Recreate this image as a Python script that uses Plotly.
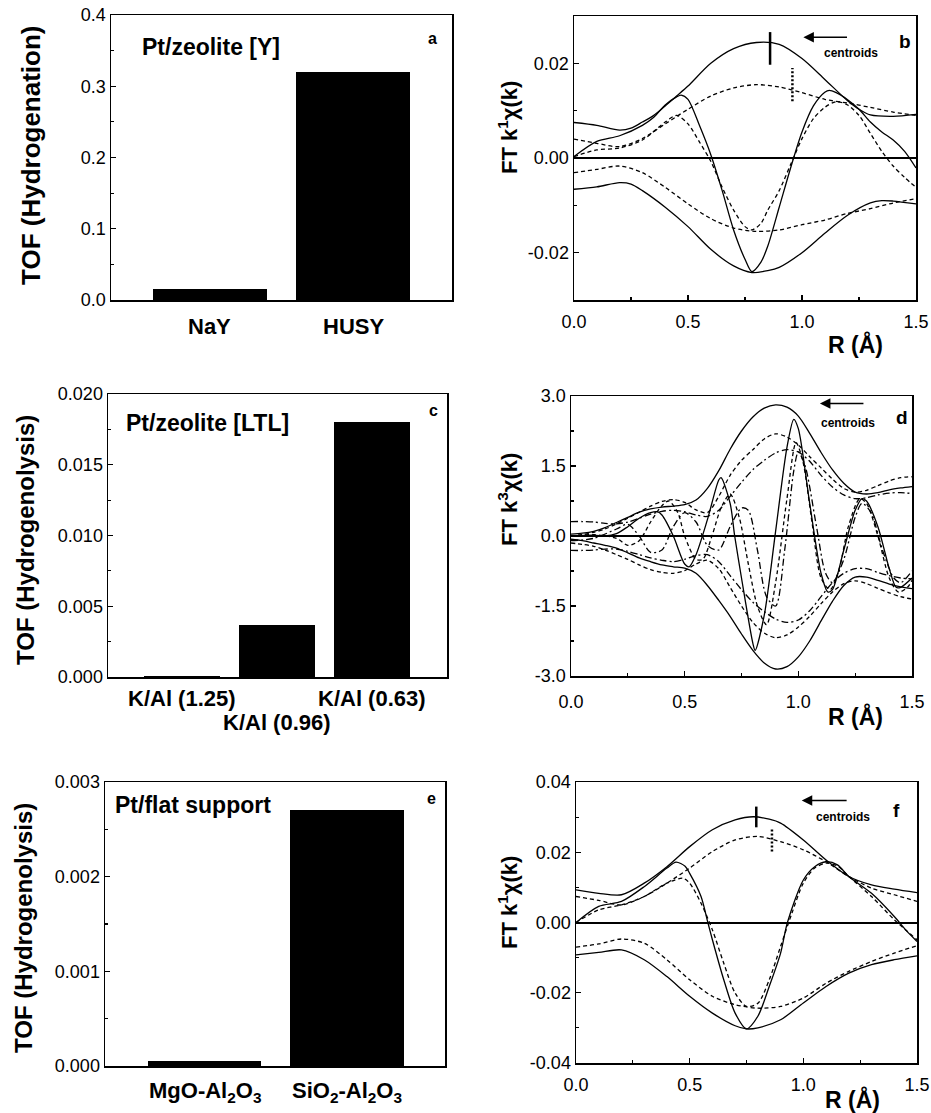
import plotly.graph_objects as go

W, H = 931, 1113
OFF = 0  # body margin is removed in the page, so reference pixels map 1:1
FONT = "Liberation Sans, Arial, Helvetica, sans-serif"

# ---------------- Panel a (bars) ----------------
a_categories = ["NaY", "HUSY"]
a_tof = [0.015, 0.32]
a_yticks = [0.0, 0.1, 0.2, 0.3, 0.4]

# ---------------- Panel c (bars) ----------------
c_categories = ["K/Al (1.25)", "K/Al (0.96)", "K/Al (0.63)"]
c_tof = [0.0001, 0.0037, 0.018]
c_yticks = [0.0, 0.005, 0.010, 0.015, 0.020]

# ---------------- Panel e (bars) ----------------
e_categories = ["MgO-Al<sub>2</sub>O<sub>3</sub>", "SiO<sub>2</sub>-Al<sub>2</sub>O<sub>3</sub>"]
e_tof = [0.00005, 0.0027]
e_yticks = [0.0, 0.001, 0.002, 0.003]

# ---------------- Panel b (FT k1 chi) ----------------
b_xticks = [0.0, 0.5, 1.0, 1.5]
b_yticks = [-0.02, 0.0, 0.02]
b_R_up = [0, 0.1, 0.2, 0.25, 0.3, 0.35, 0.4, 0.45, 0.5, 0.6, 0.7, 0.8, 0.9, 1.0, 1.1, 1.2, 1.25, 1.3, 1.4, 1.5]
b_solid_upper = [0.0075, 0.0069, 0.0059, 0.0063, 0.0076, 0.009, 0.011, 0.0131, 0.0152, 0.02, 0.0231, 0.0244,
                 0.024, 0.021, 0.0166, 0.0121, 0.0103, 0.0091, 0.0088, 0.0092]
b_R_lo = [0, 0.1, 0.2, 0.25, 0.3, 0.4, 0.5, 0.6, 0.7, 0.78, 0.85, 0.9, 1.0, 1.1, 1.2, 1.3, 1.35, 1.4, 1.5]
b_solid_lower = [-0.0066, -0.0061, -0.0052, -0.0055, -0.0069, -0.0104, -0.0145, -0.0193, -0.0228, -0.0242,
                 -0.0238, -0.0231, -0.02, -0.0159, -0.0121, -0.0095, -0.009, -0.0091, -0.0097]
b_R_im = [0, 0.1, 0.2, 0.3, 0.35, 0.4, 0.45, 0.47, 0.5, 0.55, 0.6, 0.65, 0.7, 0.75, 0.78, 0.82, 0.85, 0.9,
          0.95, 1.0, 1.05, 1.1, 1.12, 1.15, 1.2, 1.25, 1.3, 1.35, 1.4, 1.45, 1.5]
b_solid_imag = [0.0003, 0.0035, 0.0047, 0.0069, 0.0086, 0.0112, 0.0129, 0.0133, 0.0124, 0.0069, 0.0007,
                -0.0069, -0.0152, -0.0214, -0.024, -0.022, -0.0186, -0.0104, -0.0021, 0.0055, 0.011, 0.0139,
                0.0143, 0.0138, 0.0123, 0.0103, 0.0076, 0.0055, 0.0038, 0.0014, -0.0021]
b_R_dash = [0, 0.1, 0.2, 0.3, 0.4, 0.5, 0.6, 0.7, 0.8, 0.9, 1.0, 1.1, 1.2, 1.3, 1.4, 1.5]
b_dash_upper = [0.004, 0.0031, 0.0024, 0.0041, 0.0072, 0.0103, 0.0131, 0.0148, 0.0155, 0.015, 0.0138,
                0.0124, 0.0116, 0.0107, 0.0097, 0.009]
b_dash_lower = [-0.0031, -0.0024, -0.0017, -0.0031, -0.0062, -0.0097, -0.0128, -0.0148, -0.0155, -0.0152,
                -0.0141, -0.0131, -0.0117, -0.0107, -0.0095, -0.0086]
b_R_dim = [0, 0.1, 0.2, 0.3, 0.4, 0.45, 0.5, 0.55, 0.6, 0.65, 0.7, 0.75, 0.78, 0.82, 0.85, 0.9, 0.95, 1.0,
           1.05, 1.1, 1.15, 1.2, 1.25, 1.3, 1.35, 1.4, 1.45, 1.5]
b_dash_imag = [0.0003, 0.0017, 0.0021, 0.0038, 0.0076, 0.009, 0.0072, 0.0034, -0.0007, -0.0062, -0.011,
               -0.0145, -0.0152, -0.0138, -0.011, -0.0069, -0.0014, 0.0041, 0.0083, 0.0107, 0.0119, 0.0112,
               0.009, 0.0052, 0.0014, -0.0017, -0.0041, -0.0062]
b_centroid_solid = {"R": [0.86, 0.86], "v": [0.0197, 0.0266]}
b_centroid_dotted = {"R": [0.958, 0.958], "v": [0.012, 0.019]}

# ---------------- Panel d (FT k3 chi) ----------------
d_yticks = [-3.0, -1.5, 0.0, 1.5, 3.0]
d_R = [round(0.05 * i, 2) for i in range(31)]
d_solid_upper = [0.04, 0.06, 0.1, 0.18, 0.29, 0.4, 0.51, 0.58, 0.62, 0.64, 0.67, 0.77, 1.02, 1.4, 1.86, 2.25,
                 2.55, 2.74, 2.81, 2.76, 2.57, 2.2, 1.79, 1.42, 1.13, 0.94, 0.9, 0.93, 0.99, 1.03, 1.06]
d_solid_lower = [-0.07, -0.1, -0.15, -0.2, -0.26, -0.36, -0.47, -0.55, -0.62, -0.66, -0.69, -0.8, -1.06, -1.38,
                 -1.72, -2.1, -2.45, -2.72, -2.85, -2.8, -2.59, -2.25, -1.82, -1.4, -1.06, -0.88, -0.88, -0.95,
                 -1.03, -1.09, -1.13]
d_dash_upper = [0.0, 0.03, 0.08, 0.15, 0.26, 0.38, 0.51, 0.64, 0.74, 0.78, 0.72, 0.56, 0.5, 0.85, 1.3, 1.62,
                1.85, 2.08, 2.19, 2.12, 1.95, 1.7, 1.46, 1.22, 1.02, 0.94, 0.98, 1.08, 1.18, 1.25, 1.27]
d_dash_lower = [-0.15, -0.18, -0.22, -0.3, -0.4, -0.5, -0.62, -0.72, -0.78, -0.8, -0.74, -0.6, -0.52, -0.7,
                -1.1, -1.5, -1.85, -2.08, -2.18, -2.12, -1.95, -1.72, -1.45, -1.2, -1.02, -0.96, -1.02, -1.12,
                -1.22, -1.3, -1.35]
d_dd_upper = [0.31, 0.31, 0.3, 0.27, 0.26, 0.3, 0.38, 0.47, 0.53, 0.55, 0.52, 0.45, 0.42, 0.55, 0.85, 1.15,
              1.42, 1.62, 1.78, 1.85, 1.8, 1.6, 1.3, 1.05, 0.88, 0.8, 0.82, 0.88, 0.92, 0.93, 0.91]
d_dd_lower = [-0.31, -0.31, -0.3, -0.28, -0.28, -0.33, -0.4, -0.47, -0.52, -0.55, -0.5, -0.42, -0.4, -0.55,
              -0.85, -1.15, -1.42, -1.62, -1.78, -1.85, -1.8, -1.6, -1.3, -1.0, -0.8, -0.7, -0.7, -0.78, -0.85,
              -0.9, -0.92]
d_R_sim = [0, 0.1, 0.15, 0.2, 0.25, 0.3, 0.35, 0.38, 0.4, 0.45, 0.5, 0.52, 0.55, 0.6, 0.65, 0.66, 0.7, 0.72,
           0.75, 0.8, 0.81, 0.85, 0.9, 0.95, 0.98, 1.0, 1.05, 1.1, 1.13, 1.15, 1.2, 1.25, 1.28, 1.3, 1.35, 1.4,
           1.43, 1.45, 1.5]
d_solid_imag = [0.0, 0.02, 0.0, 0.05, 0.2, 0.38, 0.5, 0.52, 0.45, 0.0, -0.6, -0.66, -0.4, 0.35, 1.2, 1.25,
                0.7, 0.0, -0.9, -2.3, -2.45, -1.7, 0.1, 1.9, 2.5, 2.3, 0.7, -0.8, -1.2, -1.15, -0.3, 0.55, 0.8,
                0.75, 0.2, -0.7, -1.1, -1.1, -0.9]
d_R_dim = [0, 0.1, 0.2, 0.25, 0.3, 0.35, 0.4, 0.43, 0.47, 0.5, 0.55, 0.58, 0.62, 0.66, 0.7, 0.74, 0.78, 0.82,
           0.86, 0.9, 0.95, 0.99, 1.02, 1.06, 1.1, 1.14, 1.18, 1.22, 1.27, 1.3, 1.35, 1.4, 1.44, 1.48, 1.5]
d_dash_imag = [0.0, 0.03, -0.05, -0.2, -0.1, 0.3, 0.65, 0.75, 0.5, 0.0, -0.5, -0.5, 0.0, 0.6, 0.9, 0.4, -0.6,
               -1.5, -1.9, -1.0, 0.8, 2.0, 1.6, 0.3, -0.9, -1.15, -0.7, 0.2, 0.8, 0.7, 0.0, -0.9, -1.2, -1.1,
               -0.95]
d_R_ddim = [0, 0.1, 0.2, 0.25, 0.3, 0.35, 0.4, 0.45, 0.5, 0.55, 0.6, 0.65, 0.7, 0.75, 0.78, 0.82, 0.86, 0.9,
            0.94, 0.98, 1.0, 1.03, 1.08, 1.12, 1.15, 1.2, 1.25, 1.28, 1.32, 1.37, 1.42, 1.45, 1.5]
d_dd_imag = [-0.1, -0.05, 0.15, 0.25, 0.0, -0.35, -0.3, 0.2, 0.5, 0.3, -0.2, -0.3, 0.2, 0.6, 0.55, -0.3, -1.3,
             -1.5, -0.3, 1.4, 1.8, 1.5, 0.2, -0.8, -1.0, -0.5, 0.4, 0.7, 0.5, -0.3, -0.9, -1.0, -0.75]

# ---------------- Panel f (FT k1 chi) ----------------
f_yticks = [-0.04, -0.02, 0.0, 0.02, 0.04]
f_R = [0, 0.1, 0.2, 0.3, 0.4, 0.5, 0.6, 0.7, 0.78, 0.85, 0.9, 1.0, 1.1, 1.2, 1.3, 1.4, 1.5]
f_solid_upper = [0.0093, 0.0083, 0.0079, 0.0112, 0.0159, 0.0216, 0.0264, 0.0292, 0.0301, 0.0294, 0.0283,
                 0.0235, 0.0178, 0.0131, 0.0107, 0.0095, 0.0085]
f_R_lo = [0, 0.1, 0.2, 0.3, 0.4, 0.5, 0.6, 0.7, 0.75, 0.8, 0.9, 1.0, 1.1, 1.2, 1.3, 1.4, 1.5]
f_solid_lower = [-0.0092, -0.0085, -0.0078, -0.0106, -0.0154, -0.021, -0.0258, -0.0294, -0.0303, -0.03,
                 -0.0277, -0.0229, -0.0182, -0.0144, -0.012, -0.0106, -0.0095]
f_R_im = [0, 0.1, 0.2, 0.3, 0.4, 0.44, 0.48, 0.5, 0.55, 0.58, 0.6, 0.65, 0.7, 0.75, 0.8, 0.85, 0.9, 0.93,
          1.0, 1.05, 1.1, 1.15, 1.2, 1.3, 1.4, 1.45, 1.5]
f_solid_imag = [0.0, 0.0046, 0.006, 0.0102, 0.0155, 0.0172, 0.016, 0.014, 0.0074, 0.0, -0.0049, -0.0163,
                -0.0258, -0.0303, -0.0267, -0.0182, -0.0087, 0.0, 0.0121, 0.0159, 0.0173, 0.0164, 0.0131,
                0.0083, 0.0017, -0.0021, -0.0054]
f_R_dash = [0, 0.1, 0.2, 0.3, 0.4, 0.5, 0.6, 0.7, 0.8, 0.9, 1.0, 1.1, 1.2, 1.3, 1.4, 1.5]
f_dash_upper = [0.0074, 0.0063, 0.005, 0.0074, 0.0112, 0.0155, 0.0202, 0.0235, 0.0245, 0.023, 0.0207, 0.0173,
                0.0131, 0.0098, 0.0079, 0.006]
f_dash_lower = [-0.007, -0.0061, -0.0047, -0.0059, -0.0106, -0.0163, -0.021, -0.0234, -0.0244, -0.0239,
                -0.0215, -0.0173, -0.0139, -0.0111, -0.0087, -0.0066]
f_R_dim = [0, 0.1, 0.2, 0.3, 0.4, 0.47, 0.5, 0.55, 0.6, 0.65, 0.7, 0.75, 0.8, 0.85, 0.9, 0.95, 1.0, 1.05,
           1.1, 1.15, 1.2, 1.3, 1.4, 1.5]
f_dash_imag = [0.0, 0.0036, 0.005, 0.0074, 0.0112, 0.0126, 0.0112, 0.0055, -0.0021, -0.0116, -0.0201, -0.0239,
               -0.023, -0.0163, -0.0068, 0.0027, 0.0112, 0.0155, 0.0169, 0.0161, 0.0131, 0.0074, 0.0008, -0.0049]
f_centroid_solid = {"R": [0.793, 0.793], "v": [0.0271, 0.033]}
f_centroid_dotted = {"R": [0.862, 0.862], "v": [0.0202, 0.0265]}

# ---------------- figure ----------------
fig = go.Figure()


def px_x(p):
    return (p - OFF) / W


def px_y(p):
    return 1 - (p - OFF) / H


def fmt(vals, d):
    return [f"{v:.{d}f}" for v in vals]


# bars
fig.add_trace(go.Bar(x=list(range(len(a_categories))), y=a_tof, width=0.8, marker_color="black",
                     marker_line_width=0, xaxis="x", yaxis="y", showlegend=False))
fig.add_trace(go.Bar(x=list(range(len(c_categories))), y=c_tof, width=0.8, marker_color="black",
                     marker_line_width=0, xaxis="x3", yaxis="y3", showlegend=False))
fig.add_trace(go.Bar(x=list(range(len(e_categories))), y=e_tof, width=0.8, marker_color="black",
                     marker_line_width=0, xaxis="x5", yaxis="y5", showlegend=False))

SOLID = dict(color="black", width=1.3, shape="spline", smoothing=0.8)
DASH = dict(color="black", width=1.3, dash="4px,3px", shape="spline", smoothing=0.8)
DDOT = dict(color="black", width=1.3, dash="7px,3px,2px,3px", shape="spline", smoothing=0.8)


def line(xs, ys, style, ax):
    fig.add_trace(go.Scatter(x=xs, y=ys, mode="lines", line=style, xaxis="x" + ax, yaxis="y" + ax,
                             showlegend=False, hoverinfo="skip"))


# panel b
line(b_R_up, b_solid_upper, SOLID, "2")
line(b_R_lo, b_solid_lower, SOLID, "2")
line(b_R_im, b_solid_imag, SOLID, "2")
line(b_R_dash, b_dash_upper, DASH, "2")
line(b_R_dash, b_dash_lower, DASH, "2")
line(b_R_dim, b_dash_imag, DASH, "2")
line(b_centroid_solid["R"], b_centroid_solid["v"], dict(color="black", width=2.5), "2")
line(b_centroid_dotted["R"], b_centroid_dotted["v"], dict(color="black", width=2.5, dash="2px,2px"), "2")

# panel d
line(d_R, d_solid_upper, SOLID, "4")
line(d_R, d_solid_lower, SOLID, "4")
line(d_R_sim, d_solid_imag, SOLID, "4")
line(d_R, d_dash_upper, DASH, "4")
line(d_R, d_dash_lower, DASH, "4")
line(d_R_dim, d_dash_imag, DASH, "4")
line(d_R, d_dd_upper, DDOT, "4")
line(d_R, d_dd_lower, DDOT, "4")
line(d_R_ddim, d_dd_imag, DDOT, "4")

# panel f
line(f_R, f_solid_upper, SOLID, "6")
line(f_R_lo, f_solid_lower, SOLID, "6")
line(f_R_im, f_solid_imag, SOLID, "6")
line(f_R_dash, f_dash_upper, DASH, "6")
line(f_R_dash, f_dash_lower, DASH, "6")
line(f_R_dim, f_dash_imag, DASH, "6")
line(f_centroid_solid["R"], f_centroid_solid["v"], dict(color="black", width=2.5), "6")
line(f_centroid_dotted["R"], f_centroid_dotted["v"], dict(color="black", width=2.5, dash="2px,2px"), "6")

AX = dict(showline=True, linecolor="black", linewidth=1.5, mirror=True, showgrid=False, zeroline=False,
          ticks="inside", ticklen=5, tickwidth=1.2, tickcolor="black", automargin=False,
          ticklabeloverflow="allow")
TICKF = dict(family=FONT, size=18, color="black")


def minor(dt):
    return dict(dtick=dt, ticks="inside", ticklen=3, tickcolor="black")


def dom(x0, x1, y0, y1):
    return dict(xd=[px_x(x0), px_x(x1)], yd=[px_y(y1), px_y(y0)])


da = dom(111, 452, 15, 300)
dc = dom(108, 447, 394, 677)
de = dom(105, 445, 782, 1066)
db = dom(574, 916, 16, 300)
dd = dom(571, 912, 396, 676)
df = dom(576, 917, 782, 1063)

layout_axes = dict(
    xaxis=dict(AX, domain=da["xd"], anchor="y", range=[-0.69, 1.69], showticklabels=False, ticks=""),
    yaxis=dict(AX, domain=da["yd"], anchor="x", range=[0, 0.4], tickvals=a_yticks, ticktext=fmt(a_yticks, 1),
               tickfont=TICKF, minor=minor(0.05)),
    xaxis3=dict(AX, domain=dc["xd"], anchor="y3", range=[-0.78, 2.79], showticklabels=False, ticks=""),
    yaxis3=dict(AX, domain=dc["yd"], anchor="x3", range=[0, 0.02], tickvals=c_yticks, ticktext=fmt(c_yticks, 3),
                tickfont=TICKF, minor=minor(0.0025)),
    xaxis5=dict(AX, domain=de["xd"], anchor="y5", range=[-0.70, 1.69], showticklabels=False, ticks=""),
    yaxis5=dict(AX, domain=de["yd"], anchor="x5", range=[0, 0.003], tickvals=e_yticks, ticktext=fmt(e_yticks, 3),
                tickfont=TICKF, minor=minor(0.0005)),
    xaxis2=dict(AX, domain=db["xd"], anchor="y2", range=[0, 1.5], tickvals=b_xticks, ticktext=fmt(b_xticks, 1),
                tickfont=TICKF, ticklabelstandoff=5, minor=minor(0.25)),
    yaxis2=dict(AX, domain=db["yd"], anchor="x2", range=[-0.03, 0.03], tickvals=b_yticks,
                ticktext=fmt(b_yticks, 2), tickfont=TICKF, zeroline=True, zerolinecolor="black",
                zerolinewidth=2, minor=minor(0.01)),
    xaxis4=dict(AX, domain=dd["xd"], anchor="y4", range=[0, 1.5], tickvals=b_xticks, ticktext=fmt(b_xticks, 1),
                tickfont=TICKF, ticklabelstandoff=9, minor=minor(0.25)),
    yaxis4=dict(AX, domain=dd["yd"], anchor="x4", range=[-3, 3], tickvals=d_yticks, ticktext=fmt(d_yticks, 1),
                tickfont=TICKF, zeroline=True, zerolinecolor="black", zerolinewidth=2, minor=minor(0.75)),
    xaxis6=dict(AX, domain=df["xd"], anchor="y6", range=[0, 1.5], tickvals=b_xticks, ticktext=fmt(b_xticks, 1),
                tickfont=TICKF, ticklabelstandoff=5, minor=minor(0.25)),
    yaxis6=dict(AX, domain=df["yd"], anchor="x6", range=[-0.04, 0.04], tickvals=f_yticks,
                ticktext=fmt(f_yticks, 2), tickfont=TICKF, zeroline=True, zerolinecolor="black",
                zerolinewidth=2, minor=minor(0.01)),
)

ann = []


def text(x, y, s, size, angle=0, xanchor="center", yanchor="middle"):
    ann.append(dict(x=px_x(x), y=px_y(y), xref="paper", yref="paper", text=s, showarrow=False,
                    font=dict(family=FONT, size=size, color="black"), textangle=angle,
                    xanchor=xanchor, yanchor=yanchor))


def bold(s):
    return "<b>" + s + "</b>"


def cat_label(i, xref, ypx, s):
    ann.append(dict(x=i, xref=xref, y=px_y(ypx), yref="paper", text=bold(s), showarrow=False,
                    xanchor="center", yanchor="middle", font=dict(family=FONT, size=22, color="black")))


# category labels (placed on the category axes)
for i, cat in enumerate(a_categories):
    cat_label(i, "x", 326, cat)
for i, cat in enumerate(c_categories):
    cat_label(i, "x3", 722 if i == 1 else 698, cat)
for i, cat in enumerate(e_categories):
    cat_label(i, "x5", 1092, cat)

# axis titles
text(31, 155, bold("TOF (Hydrogenation)"), 26, -90)
text(25, 540, bold("TOF (Hydrogenolysis)"), 24, -90)
text(23, 928, bold("TOF (Hydrogenolysis)"), 24, -90)
text(508, 128, bold("FT k<sup>1</sup>χ(k)"), 22, -90)
text(508, 500, bold("FT k<sup>3</sup>χ(k)"), 22, -90)
text(508, 903, bold("FT k<sup>1</sup>χ(k)"), 22, -90)
text(855, 345, bold("R (Å)"), 23)
text(855, 716, bold("R (Å)"), 23)
text(852, 1099, bold("R (Å)"), 23)

# panel headers
text(140, 47, bold("Pt/zeolite [Y]"), 23, xanchor="left")
text(124, 423, bold("Pt/zeolite [LTL]"), 23, xanchor="left")
text(113, 805, bold("Pt/flat support"), 23, xanchor="left")

# panel letters
text(432, 38, bold("a"), 16)
text(433, 410, bold("c"), 16)
text(431, 798, bold("e"), 16)
text(905, 42, bold("b"), 19)
text(902, 417, bold("d"), 19)
text(896, 810, bold("f"), 19)

# centroid labels
text(851, 53, bold("centroids"), 12)
text(848, 423, bold("centroids"), 12)
text(843, 817, bold("centroids"), 12)

# arrows (data coordinates)
for ax_id, head, tail, yv in (("2", 1.006, 1.204, 0.0255), ("4", 1.095, 1.293, 2.84), ("6", 0.993, 1.197, 0.0347)):
    ann.append(dict(x=head, y=yv, ax=tail, ay=yv, xref="x" + ax_id, yref="y" + ax_id,
                    axref="x" + ax_id, ayref="y" + ax_id, showarrow=True, arrowhead=2, arrowsize=1.4,
                    arrowwidth=1.5, arrowcolor="black", text=""))

fig.update_layout(
    width=W, height=H, margin=dict(l=0, r=0, t=0, b=0, pad=0, autoexpand=False),
    plot_bgcolor="white", paper_bgcolor="white", hovermode=False,
    font=dict(family=FONT, color="black"), annotations=ann, showlegend=False, bargap=0, **layout_axes
)

fig.write_html("out.html", config={"displayModeBar": False, "staticPlot": True},
               post_script="document.body.style.margin='0';document.body.style.overflow='hidden';")
